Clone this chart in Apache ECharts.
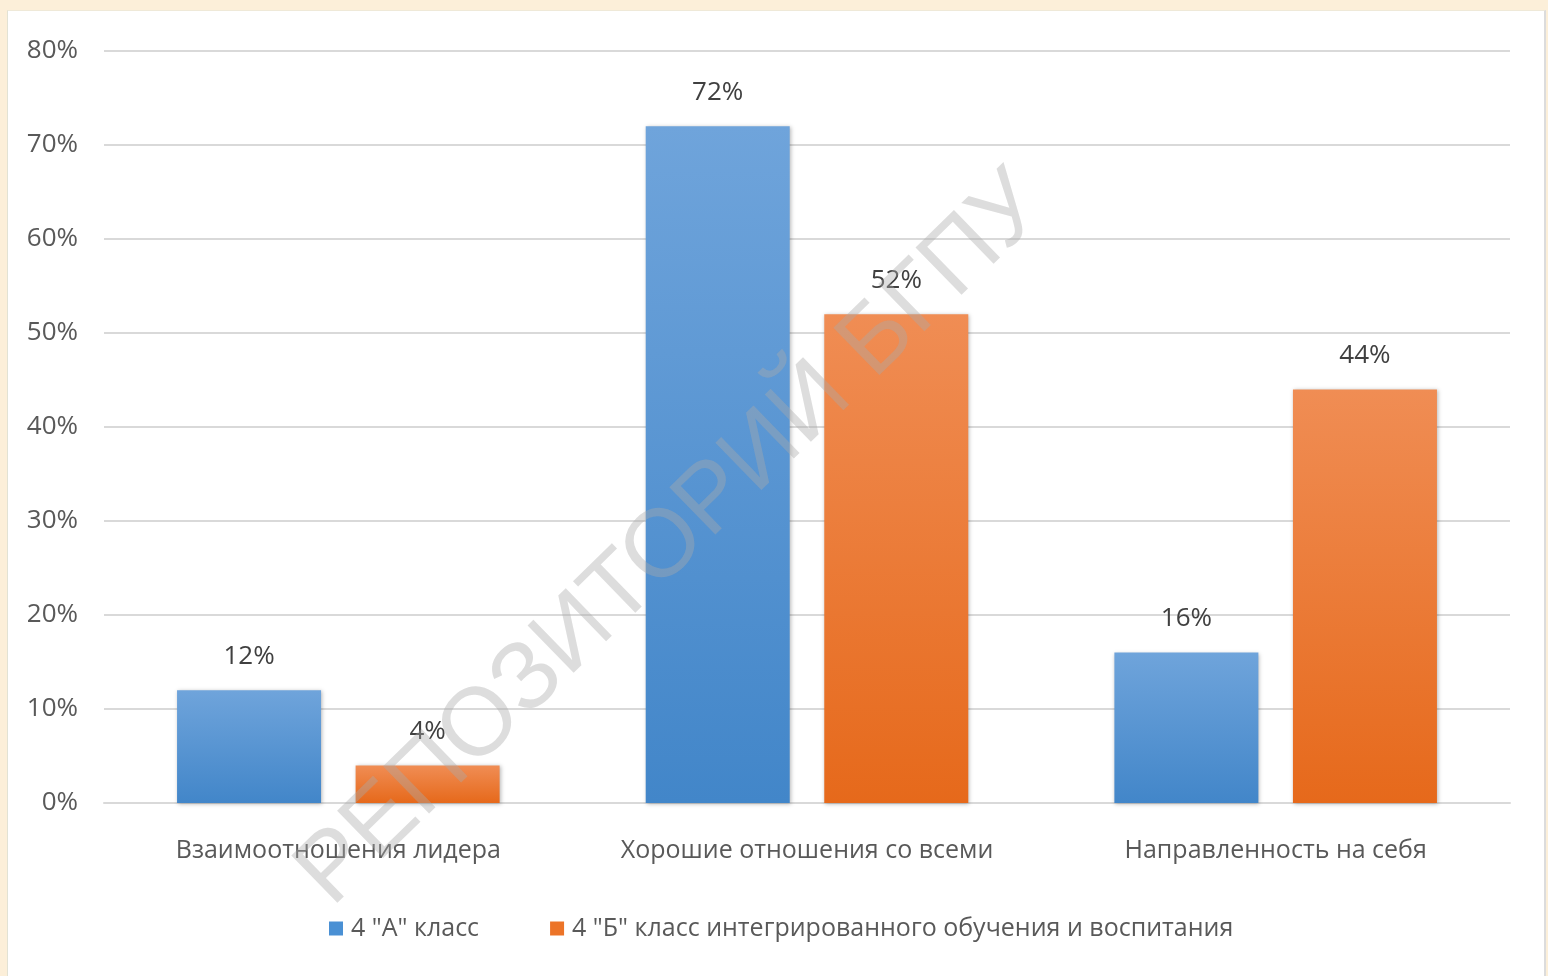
<!DOCTYPE html>
<html>
<head>
<meta charset="utf-8">
<script src="https://cdn.jsdelivr.net/npm/echarts@6/dist/echarts.min.js"></script>
<style>
  html, body { margin: 0; padding: 0; width: 1548px; height: 976px; background: #fcefd9; overflow: hidden; }
  #panel { position: absolute; left: 7px; top: 10px; width: 1536px; height: 966px; background: #ffffff; border-left: 1px solid #e2e2d4; border-top: 1px solid #efe9d8; border-right: 2px solid #dcdcdc; }
  #chart { position: absolute; left: 0; top: 0; width: 1548px; height: 976px; }
</style>
</head>
<body>
<div id="panel"></div>
<div id="chart"></div>
<script>
const categories = ['Взаимоотношения лидера', 'Хорошие отношения со всеми', 'Направленность на себя'];
const seriesNames = ['4 "А" класс', '4 "Б" класс интегрированного обучения и воспитания'];
const classA = [12, 72, 16];
const classB = [4, 52, 44];
const yTicks = { min: 0, max: 80, interval: 10 };
const watermarkText = 'РЕПОЗИТОРИЙ БГПУ';

const FONT = '"Open Sans", "Noto Sans", sans-serif';

function grad(top, bottom) {
  return new echarts.graphic.LinearGradient(0, 0, 0, 1, [
    { offset: 0, color: top },
    { offset: 1, color: bottom }
  ]);
}

const chart = echarts.init(document.getElementById('chart'), null, { renderer: 'canvas' });
const barShadow = { shadowBlur: 4, shadowColor: 'rgba(0,0,0,0.28)', shadowOffsetX: 1, shadowOffsetY: 1 };
const labelCfg = { show: true, position: 'top', distance: 21, formatter: '{c}%', color: '#404040', fontSize: 26, fontFamily: FONT };

chart.setOption({
  backgroundColor: 'transparent',
  animation: false,
  grid: { left: 104, right: 38, top: 51, bottom: 173, containLabel: false },
  legend: {
    left: 324, top: 911,
    itemWidth: 14, itemHeight: 14, itemGap: 71,
    icon: 'rect',
    textStyle: { fontSize: 25, color: '#595959', fontFamily: FONT, padding: [0, 0, 0, 3] },
    data: [
      { name: seriesNames[0], itemStyle: { color: '#4a90d4' } },
      { name: seriesNames[1], itemStyle: { color: '#ec7428' } }
    ]
  },
  xAxis: {
    type: 'category',
    data: categories,
    axisLine: { show: true, lineStyle: { color: '#d9d9d9', width: 2 } },
    axisTick: { show: false },
    axisLabel: { interval: 0, color: '#595959', fontSize: 25, fontFamily: FONT, margin: 35 }
  },
  yAxis: {
    type: 'value',
    min: yTicks.min, max: yTicks.max, interval: yTicks.interval,
    axisLine: { show: false },
    axisTick: { show: false },
    splitLine: { lineStyle: { color: '#d9d9d9', width: 2 } },
    axisLabel: { formatter: '{value}%', color: '#595959', fontSize: 26, fontFamily: FONT, margin: 26 }
  },
  series: [
    {
      name: seriesNames[0], type: 'bar', data: classA,
      barWidth: 144, barGap: '24%',
      itemStyle: Object.assign({ color: grad('#6fa4db', '#4286c9') }, barShadow),
      label: labelCfg
    },
    {
      name: seriesNames[1], type: 'bar', data: classB,
      barWidth: 144, barGap: '24%',
      itemStyle: Object.assign({ color: grad('#f08d54', '#e6691b') }, barShadow),
      label: labelCfg
    }
  ],
  graphic: [
    {
      type: 'text',
      x: 672, y: 540,
      rotation: 0.772,
      z: 100,
      silent: true,
      style: {
        text: watermarkText,
        fontSize: 96,
        fontFamily: '"Liberation Sans", Arial, sans-serif',
        fill: 'rgba(170,170,170,0.4)',
        align: 'center',
        verticalAlign: 'middle'
      }
    }
  ]
});
</script>
</body>
</html>
